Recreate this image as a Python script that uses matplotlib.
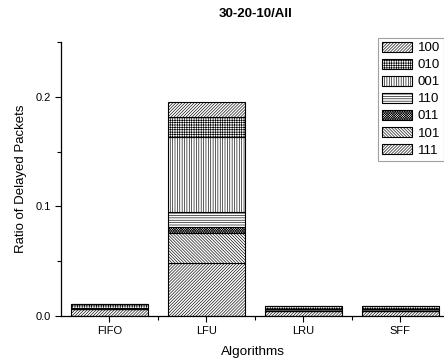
import matplotlib
matplotlib.use("Agg")
import matplotlib.pyplot as plt
import numpy as np
from matplotlib.ticker import MultipleLocator, FixedLocator

plt.rcParams['font.family'] = ['Liberation Sans', 'DejaVu Sans']
plt.rcParams['hatch.linewidth'] = 0.45
plt.rcParams['hatch.color'] = '#555555'

categories = ["FIFO", "LFU", "LRU", "SFF"]
# stacked bottom -> top
series_names = ["111", "101", "011", "110", "001", "010", "100"]
v111 = [0.006, 0.0481, 0.005, 0.005]
v101 = [0.0, 0.0274, 0.0, 0.0]
v011 = [0.0, 0.0055, 0.0, 0.0]
v110 = [0.001, 0.0137, 0.001, 0.001]
v001 = [0.0, 0.069, 0.0, 0.0]
v010 = [0.004, 0.0183, 0.003, 0.003]
v100 = [0.0, 0.0132, 0.0, 0.0]
values = [v111, v101, v011, v110, v001, v010, v100]
hatches = ["/" * 11, "\\" * 11, "x" * 14, "-" * 7, "|" * 7, "+" * 7, "/" * 11]

fig = plt.figure(figsize=(4.44, 3.64), dpi=100)
ax = fig.add_axes([61/444, 1-316/364, 383/444, (316-42)/364])

x = np.arange(len(categories))
bottom = np.zeros(len(categories))
handles = []
for name, vals, h in zip(series_names, values, hatches):
    vals = np.array(vals)
    b = ax.bar(x, vals, width=0.8, bottom=bottom, color='white',
               edgecolor='black', linewidth=0.8, hatch=h, label=name)
    handles.append(b)
    bottom += vals

ax.set_xlim(-0.5, 3.45)
ax.set_ylim(0, 0.25)
ax.set_xticks(x)
ax.set_xticklabels(categories, fontsize=8)
ax.xaxis.set_minor_locator(FixedLocator([0.5, 1.5, 2.5]))
ax.yaxis.set_minor_locator(MultipleLocator(0.05))
ax.set_yticks([0.0, 0.1, 0.2])
ax.set_yticklabels(["0.0", "0.1", "0.2"], fontsize=8)
ax.tick_params(which='major', direction='out', length=4, width=0.8)
ax.tick_params(which='minor', direction='out', length=3, width=0.8)
for s in ['top', 'right']:
    ax.spines[s].set_visible(False)
ax.spines['left'].set_linewidth(0.9)
ax.spines['bottom'].set_linewidth(0.9)

ax.set_ylabel("Ratio of Delayed Packets", fontsize=9.5, labelpad=6)
ax.set_xlabel("Algorithms", fontsize=9.7, labelpad=7)
fig.text(256/444, 1-14/364, "30-20-10/All", ha='center', va='center',
         fontsize=9.5, fontweight='bold')

leg = ax.legend(handles[::-1], series_names[::-1], loc='upper right',
                bbox_to_anchor=(1.0, 1.015), fontsize=9.5, frameon=True,
                fancybox=False, edgecolor='#888888', handlelength=2.3,
                handleheight=0.75, labelspacing=0.35, borderpad=0.3,
                handletextpad=0.4, borderaxespad=0.0)
leg.get_frame().set_linewidth(0.8)

fig.savefig("out.png", dpi=100)
